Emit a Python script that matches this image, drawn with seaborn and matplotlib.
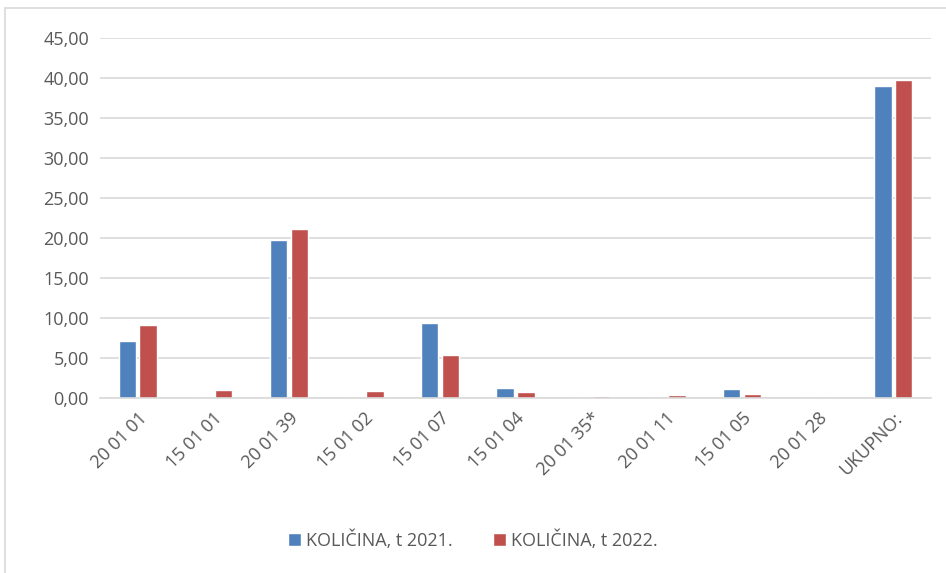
import pandas as pd
import numpy as np
import matplotlib.pyplot as plt
import matplotlib.ticker as mticker
import seaborn as sns

categories = ['20 01 01', '15 01 01', '20 01 39', '15 01 02', '15 01 07', '15 01 04',
              '20 01 35*', '20 01 11', '15 01 05', '20 01 28', 'UKUPNO:']
kol_2021 = [7.15, 0.0, 19.75, 0.0, 9.4, 1.3, 0.0, 0.0, 1.15, 0.0, 39.0]
kol_2022 = [9.1, 1.0, 21.1, 0.85, 5.4, 0.7, 0.25, 0.4, 0.55, 0.0, 39.7]
series = ['KOLIČINA, t 2021.', 'KOLIČINA, t 2022.']

df = pd.DataFrame({
    'kategorija': categories * 2,
    'vrijednost': kol_2021 + kol_2022,
    'serija': [series[0]] * len(categories) + [series[1]] * len(categories),
})

sns.set_style('white')
plt.rcParams['font.family'] = ['Open Sans', 'DejaVu Sans']

fig = plt.figure(figsize=(9.46, 5.73), dpi=100)
ax = fig.add_axes([100 / 946, 1 - 398 / 573, 831 / 946, 360 / 573])

sns.barplot(data=df, x='kategorija', y='vrijednost', hue='serija',
            palette=['#4f81bd', '#c0504d'], width=0.55, gap=0.16,
            saturation=1, ax=ax)

ax.set_ylim(0, 45)
ax.set_yticks(np.arange(0, 46, 5))
ax.yaxis.set_major_formatter(mticker.FuncFormatter(lambda v, p: f'{v:.2f}'.replace('.', ',')))
ax.grid(axis='y', color='#d9d9d9', linewidth=1.2)
ax.set_axisbelow(True)
ax.set_xlim(-0.5, len(categories) - 0.5)
for s in ['top', 'right', 'left']:
    ax.spines[s].set_visible(False)
ax.spines['bottom'].set_color('#d9d9d9')
ax.spines['bottom'].set_linewidth(1.2)
ax.set_xlabel('')
ax.set_ylabel('')
ax.tick_params(axis='both', colors='#595959', labelsize=13, length=0, pad=8)
plt.setp(ax.get_xticklabels(), rotation=45, ha='right', rotation_mode='anchor')

handles, labels = ax.get_legend_handles_labels()
ax.legend_.remove()
fig.legend(handles, labels, loc='center', bbox_to_anchor=(0.5, 1 - 540 / 573), ncol=2,
           frameon=False, fontsize=13, labelcolor='#595959', handlelength=0.7,
           handleheight=0.7, handletextpad=0.3, columnspacing=2.2)

# chart border
fig.add_artist(plt.Rectangle((5 / 946, -0.01), 1.0, 1 - 8 / 573 + 0.01,
                             transform=fig.transFigure, fill=False,
                             edgecolor='#d9d9d9', linewidth=1.2))

fig.savefig('out.png', dpi=100)
